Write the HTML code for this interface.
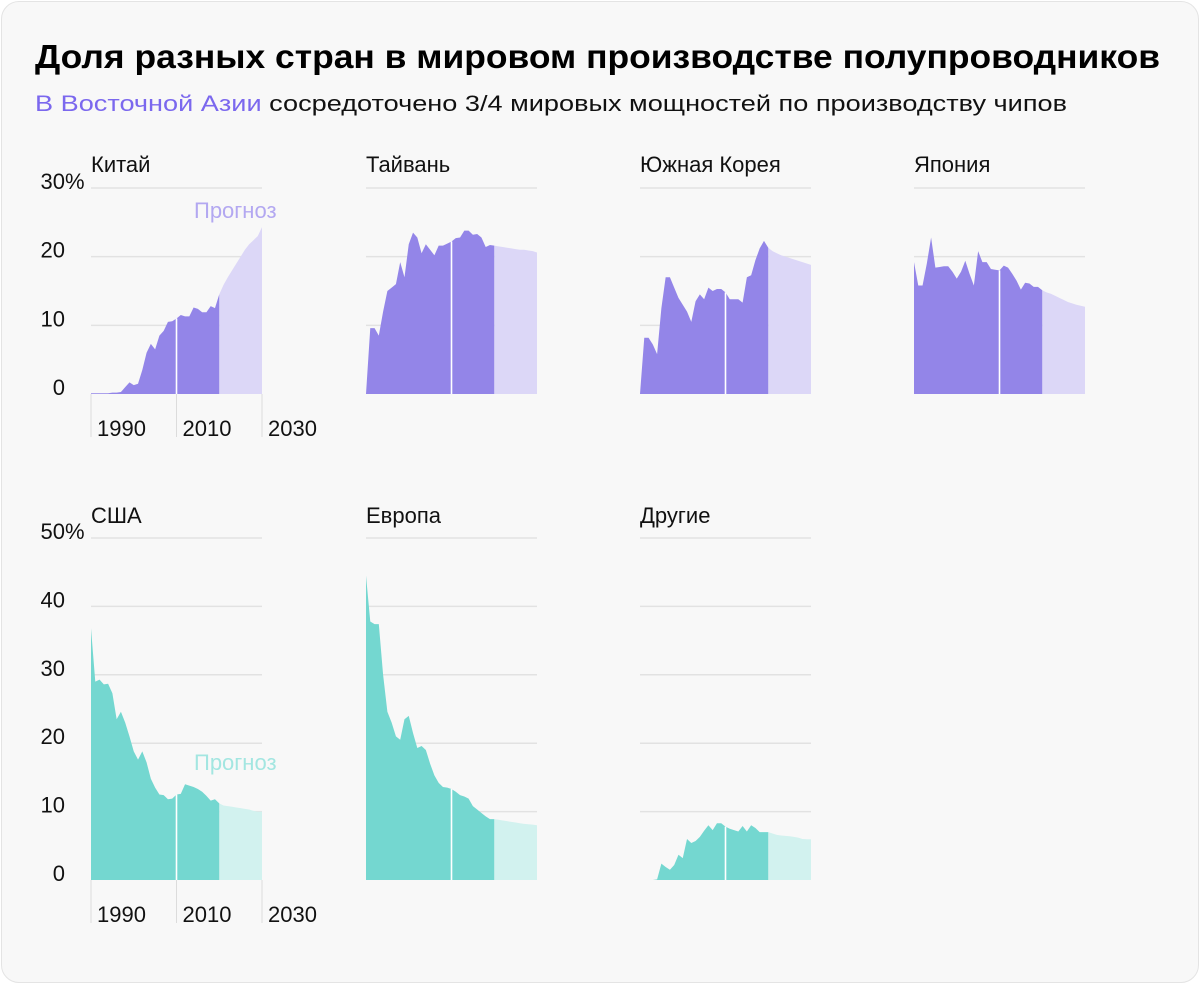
<!DOCTYPE html>
<html><head><meta charset="utf-8"><style>
html,body{margin:0;padding:0;background:#fff;}
#card{position:absolute;left:1px;top:1px;width:1196px;height:980px;background:#f8f8f8;border:1px solid #e4e4e4;border-radius:18px;}
svg{position:absolute;left:0;top:0;}
text{font-family:"Liberation Sans",sans-serif;}
</style></head><body>
<div id="card"></div>
<svg id="chart" width="1200" height="984">
<text x="35" y="68" font-size="33" font-weight="bold" fill="#000" textLength="1125" lengthAdjust="spacingAndGlyphs">Доля разных стран в мировом производстве полупроводников</text>
<text x="35" y="111" font-size="22" fill="#111" textLength="1032" lengthAdjust="spacingAndGlyphs"><tspan fill="#7b68ee">В Восточной Азии</tspan> сосредоточено 3/4 мировых мощностей по производству чипов</text>
</svg>
<script>
const years = [];
for (let y = 1990; y <= 2030; y++) years.push(y);
const chinaValues = [0.1,0.1,0.1,0.1,0.1,0.2,0.2,0.3,1.0,1.7,1.3,1.5,3.5,6,7.3,6.5,8.5,9.2,10.5,10.6,11,11.5,11.3,11.3,12.6,12.4,11.9,11.9,12.8,12.5,14.5,15.9,17,18,19,20,21,21.8,22.4,23,24.3];
const taiwanValues = [0,9.6,9.6,8.5,12,15,15.5,16,19.2,17,21.8,23.5,22.8,20.5,21.8,21,20.2,21.6,21.6,21.9,22.2,22.7,22.8,23.8,23.8,23.2,23.3,22.8,21.4,21.7,21.6,21.5,21.4,21.3,21.2,21.1,21.0,21.0,20.9,20.8,20.6];
const koreaValues = [0,8.2,8.2,7.2,5.8,12.5,17,17,15.5,14,13,12,10.5,13.5,14.5,13.8,15.5,15,15.3,15.3,14.8,13.8,13.8,13.8,13.3,17,17.3,19.5,21.2,22.3,21.3,20.8,20.5,20.2,20.0,19.8,19.6,19.4,19.2,19.0,18.8];
const japanValues = [19.2,15.8,15.8,19,22.8,18.4,18.5,18.6,18.6,17.8,16.8,17.8,19.4,17.5,15.8,20.8,19.2,19.2,18.2,18.1,18,18.7,18.4,17.5,16.5,15.2,16.2,16.1,15.6,15.6,15.1,14.8,14.6,14.3,14.0,13.7,13.4,13.2,13.0,12.85,12.7];
const usaValues = [36.8,29,29.3,28.6,28.7,27.3,23.5,24.6,23.0,21,18.8,17.6,18.8,17.2,14.8,13.5,12.5,12.4,11.8,11.9,12.5,12.6,14,13.8,13.6,13.3,12.9,12.3,11.6,11.8,11.2,10.9,10.8,10.7,10.6,10.5,10.4,10.3,10.1,10.0,10.0];
const europeValues = [44.5,37.8,37.4,37.4,30,24.6,23,21,20.5,23.5,24,21.5,19.3,19.6,19,17,15.3,14.2,13.6,13.5,13.3,12.9,12.4,12.2,11.9,10.8,10.3,9.8,9.3,8.9,8.9,8.8,8.7,8.6,8.5,8.4,8.3,8.2,8.15,8.1,8.0];
const otherValues = [0,0,0,0,0.1,2.4,1.9,1.5,2.2,3.7,3.2,6,5.4,5.7,6.3,7.2,8,7.3,8.3,8.3,7.8,7.5,7.3,7.1,7.9,7.1,8.0,7.6,7.0,7.0,7.0,6.8,6.6,6.5,6.45,6.4,6.3,6.2,6.0,5.95,5.95];
const topTicks = [0,10,20,30];
const bottomTicks = [0,10,20,30,40,50];
const yearTicks = [1990,2010,2030];
const forecastStart = 2020;
const splitYear = 2010;

const svg = document.getElementById('chart');
const NS = 'http://www.w3.org/2000/svg';
function mk(tag, attrs) {
  const e = document.createElementNS(NS, tag);
  for (const k in attrs) e.setAttribute(k, attrs[k]);
  svg.appendChild(e);
  return e;
}
const panelW = 171;
function xScale(x0, yr) { return x0 + (yr - 1990) / 40 * panelW; }

function panel(name, title, values, x0, y0, maxV, hPx, ticks, dark, light, first, forecastLabel, titleY) {
  const ys = v => y0 - v / maxV * hPx;
  // gridlines
  ticks.forEach(t => {
    if (t === 0) return;
    const g = mk('line', {x1: x0, x2: x0 + panelW, y1: ys(t), y2: ys(t), stroke: '#e2e2e2', 'stroke-width': 1.5});
    
    
  });
  const tt = mk('text', {x: x0, y: titleY, 'font-size': 22, fill: '#111'});
  tt.textContent = title;
  
  
  const fi = years.indexOf(forecastStart);
  // forecast area
  let d = 'M' + xScale(x0, forecastStart) + ',' + y0;
  for (let i = fi; i < years.length; i++) d += 'L' + xScale(x0, years[i]).toFixed(2) + ',' + ys(values[i]).toFixed(2);
  d += 'L' + xScale(x0, 2030) + ',' + y0 + 'Z';
  const fa = mk('path', {d: d, fill: light});
  
  
  // actual area
  let d2 = 'M' + x0 + ',' + y0;
  for (let i = 0; i <= fi; i++) d2 += 'L' + xScale(x0, years[i]).toFixed(2) + ',' + ys(values[i]).toFixed(2);
  d2 += 'L' + xScale(x0, forecastStart) + ',' + y0 + 'Z';
  const aa = mk('path', {d: d2, fill: dark});
  
  
  const si = years.indexOf(splitYear);
  const sl = mk('line', {x1: xScale(x0, splitYear), x2: xScale(x0, splitYear), y1: y0, y2: ys(values[si]), stroke: '#fff', 'stroke-width': 1.6});
  
  
  if (first) {
    ticks.forEach(t => {
      const lb = mk('text', {x: 65, y: ys(t) + 1, 'font-size': 22, fill: '#111', 'text-anchor': 'end'});
      lb.textContent = String(t);
      
      
      if (t === ticks[ticks.length - 1]) {
        const pc = mk('text', {x: 65, y: ys(t) + 1, 'font-size': 22, fill: '#111'});
        pc.textContent = '%';
        
        
      }
    });
    yearTicks.forEach(yr => {
      const x = xScale(x0, yr);
      const tl = mk('line', {x1: x, x2: x, y1: y0, y2: y0 + 43, stroke: '#dcdcdc', 'stroke-width': 1});
      
      
      const lb = mk('text', {x: x + 6, y: y0 + 42, 'font-size': 22, fill: '#111'});
      lb.textContent = String(yr);
      
      
    });
  }
  if (forecastLabel) {
    const fl = mk('text', {x: x0 + 103, y: forecastLabel.y, 'font-size': 22, fill: forecastLabel.c});
    fl.textContent = 'Прогноз';
    
    
  }
}
const P = '#9385e8', PL = '#dcd7f7', T = '#74d7d0', TL = '#d2f2ef';
panel('china', 'Китай', chinaValues, 91, 394, 30, 206, topTicks, P, PL, true, {y: 218, c: '#b3a8f1'}, 172);
panel('taiwan', 'Тайвань', taiwanValues, 366, 394, 30, 206, topTicks, P, PL, false, null, 172);
panel('south-korea', 'Южная Корея', koreaValues, 640, 394, 30, 206, topTicks, P, PL, false, null, 172);
panel('japan', 'Япония', japanValues, 914, 394, 30, 206, topTicks, P, PL, false, null, 172);
panel('usa', 'США', usaValues, 91, 880, 50, 342, bottomTicks, T, TL, true, {y: 770, c: '#a3e6e1'}, 523);
panel('europe', 'Европа', europeValues, 366, 880, 50, 342, bottomTicks, T, TL, false, null, 523);
panel('others', 'Другие', otherValues, 640, 880, 50, 342, bottomTicks, T, TL, false, null, 523);
</script>
</body></html>
